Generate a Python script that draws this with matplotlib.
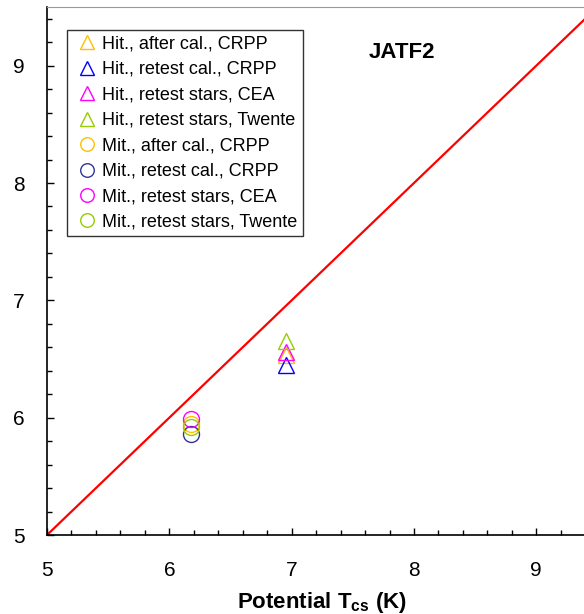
import numpy as np
import matplotlib
matplotlib.use("Agg")
import matplotlib.pyplot as plt
from matplotlib.ticker import MultipleLocator

plt.rcParams['font.family'] = ['Liberation Sans', 'DejaVu Sans']
plt.rcParams['mathtext.fontset'] = 'custom'
plt.rcParams['mathtext.rm'] = 'Liberation Sans'
plt.rcParams['mathtext.bf'] = 'Liberation Sans:bold'

# potential Tcs vs measured Tcs for the JATF2 sample
labels = ["Hit., after cal., CRPP", "Hit., retest cal., CRPP",
          "Hit., retest stars, CEA", "Hit., retest stars, Twente",
          "Mit., after cal., CRPP", "Mit., retest cal., CRPP",
          "Mit., retest stars, CEA", "Mit., retest stars, Twente"]
colors = ["#FFC000", "#0000FF", "#FF00FF", "#99CC00",
          "#FFC000", "#333399", "#FF00FF", "#99CC00"]
markers = ["^", "^", "^", "^", "o", "o", "o", "o"]
x_pot = [6.95, 6.95, 6.95, 6.95, 6.18, 6.18, 6.18, 6.18]
y_meas = [6.53, 6.45, 6.56, 6.65, 5.95, 5.86, 5.99, 5.92]

line_x = [5, 10]

W, H = 584, 614
fig = plt.figure(figsize=(W/100, H/100), dpi=100)
ax = fig.add_axes([47/W, 1-535/H, 1-47/W, (535-7)/H])

ax.plot(line_x, line_x, color="red", lw=1.6, zorder=1)
for xv, yv, c, m, lab in zip(x_pot, y_meas, colors, markers, labels):
    ax.plot([xv], [yv], linestyle="none", marker=m, markersize=11.5,
            markerfacecolor="none", markeredgecolor=c, markeredgewidth=1.0,
            label=lab, zorder=3)

ax.set_xlim(5, 9.39)
ax.set_ylim(5, 9.5)
ax.xaxis.set_major_locator(MultipleLocator(1))
ax.xaxis.set_minor_locator(MultipleLocator(0.2))
ax.yaxis.set_major_locator(MultipleLocator(1))
ax.yaxis.set_minor_locator(MultipleLocator(0.2))
ax.tick_params(which="both", direction="in", labelsize=15, width=1)
ax.tick_params(which="major", length=5)
ax.tick_params(which="minor", length=3.5)
ax.tick_params(axis="x", pad=19)
ax.tick_params(axis="y", pad=16)

ax.spines["right"].set_visible(False)
ax.spines["top"].set_color("#999999")
ax.spines["left"].set_linewidth(1.2)
ax.spines["bottom"].set_linewidth(1.2)

ax.set_xlabel(r"Potential T$_{\mathbf{cs}}$ (K)", fontsize=16, fontweight="bold")
ax.xaxis.set_label_coords(0.512, -0.105)

fig.text(402/W, 1-52/H, "JATF2", fontsize=16, fontweight="bold",
         ha="center", va="center")

leg = ax.legend(loc="upper left", bbox_to_anchor=((67-47)/537, 1-(30-7)/528),
                fontsize=13, frameon=True, fancybox=False, borderpad=0.3,
                labelspacing=0.47, handlelength=1.6, handletextpad=0.05,
                borderaxespad=0, markerscale=0.85)
leg.get_frame().set_edgecolor("black")
leg.get_frame().set_linewidth(1.0)

fig.savefig("out.png", dpi=100)
